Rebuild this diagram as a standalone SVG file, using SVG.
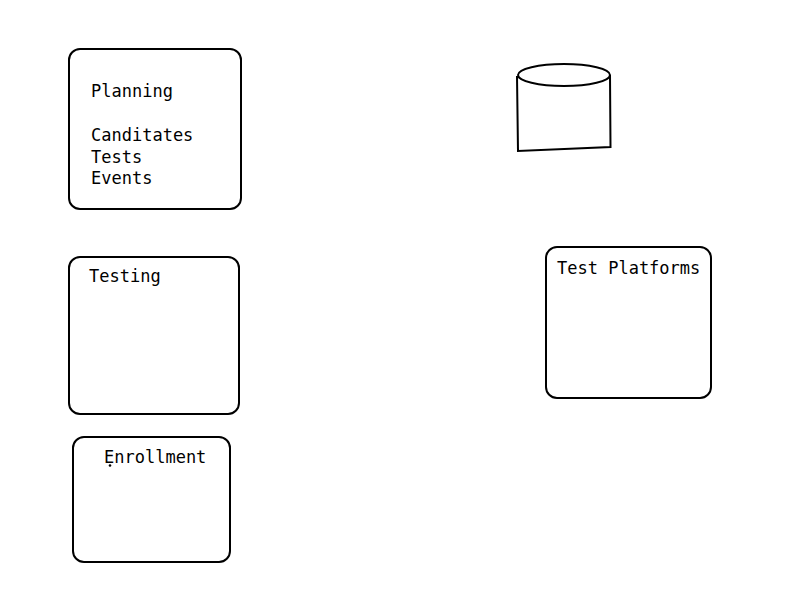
<svg xmlns="http://www.w3.org/2000/svg" width="800" height="600" viewBox="0 0 800 600">
<style>
.b{fill:#fff;stroke:#000;stroke-width:2}
.s{fill:none;stroke:#000;stroke-width:2}
text{font-family:"DejaVu Sans Mono","Liberation Mono",monospace;font-size:17px;fill:#000}
</style>
<rect width="800" height="600" fill="#fff"/>
<g id="planning"><rect class="b" x="69" y="49" width="172" height="160" rx="11"/>
<text x="91" y="97">Planning</text><text x="91" y="141">Canditates</text><text x="91" y="163">Tests</text><text x="91" y="184">Events</text></g>
<g id="testing"><rect class="b" x="69" y="257" width="170" height="157" rx="11"/><text x="89" y="282">Testing</text></g>
<g id="enrollment"><rect class="b" x="73" y="437" width="157" height="125" rx="11"/><text x="104" y="463">Enrollment</text><circle cx="110" cy="465.500" r="1.300" fill="#000"/></g>
<g id="database"><path class="s" d="M517 76L518 151L610.500 147L610 75"/><ellipse class="b" cx="564" cy="75" rx="46" ry="11"/></g>
<g id="test-platforms"><rect class="b" x="546" y="247" width="165" height="151" rx="11"/><text x="557" y="274">Test Platforms</text></g>
<g id="connectors"></g>
</svg>
